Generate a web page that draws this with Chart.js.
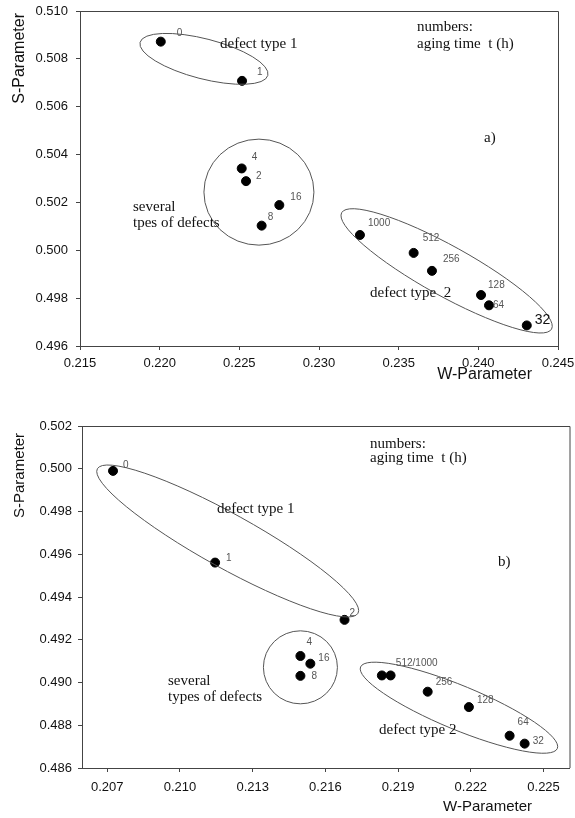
<!DOCTYPE html>
<html>
<head>
<meta charset="utf-8">
<script src="https://cdn.jsdelivr.net/npm/chart.js@4.4.1/dist/chart.umd.min.js"></script>
<style>
  html, body { margin: 0; padding: 0; background: #fff; }
  .panel { position: absolute; left: 0; width: 575px; }
  #panelA { top: 0; height: 400px; }
  #panelB { top: 400px; height: 418px; }
</style>
</head>
<body>
<div class="panel" id="panelA"><canvas id="chartA" width="575" height="400"></canvas></div>
<div class="panel" id="panelB"><canvas id="chartB" width="575" height="418"></canvas></div>
<script>
// aging time (h) for each measured point
const hours = ['0', '1', '2', '4', '8', '16', '32', '64', '128', '256', '512', '1000'];

// panel a)
const wParamA = [0.22007, 0.22517, 0.22542, 0.22515, 0.22640, 0.22751, 0.24304, 0.24067, 0.24017, 0.23709, 0.23594, 0.23257];
const sParamA = [0.50872, 0.50708, 0.50289, 0.50342, 0.50103, 0.50189, 0.49686, 0.49770, 0.49813, 0.49914, 0.49989, 0.50064];
const xTicksA = [0.215, 0.220, 0.225, 0.230, 0.235, 0.240, 0.245];
const yTicksA = [0.496, 0.498, 0.500, 0.502, 0.504, 0.506, 0.508, 0.510];

// panel b)
const wParamB = [0.20724, 0.21145, 0.21679, 0.21497, 0.21497, 0.21538, 0.22422, 0.22360, 0.22192, 0.22022, 0.21833, 0.21869];
const sParamB = [0.49990, 0.49561, 0.49293, 0.49124, 0.49031, 0.49088, 0.48714, 0.48751, 0.48885, 0.48957, 0.49033, 0.49033];
const xTicksB = [0.207, 0.210, 0.213, 0.216, 0.219, 0.222, 0.225];
const yTicksB = [0.486, 0.488, 0.490, 0.492, 0.494, 0.496, 0.498, 0.500, 0.502];
const labelsB = ['0', '1', '2', '4', '8', '16', '32', '64', '128', '256', '512/1000', ''];

// label offsets (px) next to each point
const offsetsA = [[16, -8], [15, -9], [10, -5], [10, -11], [6, -8], [11, -8], [8, -5], [4, 0], [7, -10], [11, -12], [9, -15], [8, -12]];
const offsetsB = [[10, -6], [11, -4], [5, -7], [6, -14], [11, 0], [8, -5], [8, -2], [8, -13], [8, -7], [8, -9], [14, -12], [0, 0]];

const serif = '"Liberation Serif", "Times New Roman", serif';
const sans = '"Liberation Sans", Arial, sans-serif';

// ellipses around groups: centre in data units, semi axes in px, tilt in degrees
const ellipsesA = [
  { x: 0.22278, y: 0.50800, a: 66, b: 20, angle: 14.5 },
  { x: 0.22623, y: 0.50243, a: 55, b: 53, angle: 0 },
  { x: 0.23801, y: 0.49914, a: 120, b: 25, angle: 29 }
];
const ellipsesB = [
  { x: 0.21197, y: 0.49662, a: 149, b: 27, angle: 29 },
  { x: 0.21497, y: 0.49071, a: 37, b: 36.5, angle: 0 },
  { x: 0.22151, y: 0.48882, a: 106.5, b: 22, angle: 22.5 }
];

const notesA = [
  { text: 'defect type 1', x: 220, y: 48 },
  { text: 'numbers:', x: 417, y: 31 },
  { text: 'aging time  t (h)', x: 417, y: 48 },
  { text: 'a)', x: 484, y: 142 },
  { text: 'several', x: 133, y: 211 },
  { text: 'tpes of defects', x: 133, y: 227 },
  { text: 'defect type  2', x: 370, y: 297 }
];
const notesB = [
  { text: 'numbers:', x: 370, y: 48 },
  { text: 'aging time  t (h)', x: 370, y: 62 },
  { text: 'defect type 1', x: 217, y: 113 },
  { text: 'b)', x: 498, y: 166 },
  { text: 'several', x: 168, y: 285 },
  { text: 'types of defects', x: 168, y: 301 },
  { text: 'defect type 2', x: 379, y: 334 }
];

const decorPlugin = {
  id: 'decor',
  afterDatasetsDraw(chart, args, opts) {
    const ctx = chart.ctx;
    const area = chart.chartArea;
    const xs = chart.scales.x;
    const ys = chart.scales.y;
    ctx.save();

    // top and right frame lines
    ctx.strokeStyle = '#444';
    ctx.lineWidth = 1;
    ctx.beginPath();
    ctx.moveTo(area.left, area.top + 0.5);
    ctx.lineTo(area.right + 0.5, area.top + 0.5);
    ctx.lineTo(area.right + 0.5, area.bottom);
    ctx.stroke();

    // group ellipses
    ctx.strokeStyle = '#555';
    opts.ellipses.forEach(e => {
      ctx.beginPath();
      ctx.ellipse(xs.getPixelForValue(e.x), ys.getPixelForValue(e.y), e.a, e.b, e.angle * Math.PI / 180, 0, Math.PI * 2);
      ctx.stroke();
    });

    // point labels
    const meta = chart.getDatasetMeta(0);
    ctx.textBaseline = 'middle';
    ctx.textAlign = 'left';
    meta.data.forEach((pt, i) => {
      const txt = opts.labels[i];
      if (!txt) return;
      const big = opts.bigLabel === i;
      ctx.font = big ? '14px ' + sans : '10px ' + sans;
      ctx.fillStyle = big ? '#111' : '#555';
      ctx.fillText(txt, pt.x + opts.offsets[i][0], pt.y + opts.offsets[i][1]);
    });

    // notes
    ctx.textBaseline = 'alphabetic';
    ctx.fillStyle = '#111';
    ctx.font = '15px ' + serif;
    opts.notes.forEach(n => ctx.fillText(n.text, n.x, n.y));

    // axis titles
    ctx.font = opts.titleSize + 'px ' + sans;
    ctx.textAlign = 'right';
    ctx.textBaseline = 'middle';
    ctx.fillText('W-Parameter', 532, opts.xTitleY);
    ctx.translate(20, opts.yTitleTop);
    ctx.rotate(-Math.PI / 2);
    ctx.fillText('S-Parameter', 0, 0);
    ctx.restore();
  }
};

function makeChart(id, w, s, cfg) {
  const points = w.map((v, i) => ({ x: v, y: s[i] }));
  return new Chart(document.getElementById(id), {
    type: 'scatter',
    data: {
      datasets: [{
        data: points,
        backgroundColor: '#000',
        borderColor: '#000',
        pointRadius: 4.5,
        pointHoverRadius: 4.5
      }]
    },
    options: {
      responsive: false,
      animation: false,
      layout: { padding: cfg.padding },
      plugins: {
        legend: { display: false },
        tooltip: { enabled: false },
        decor: cfg.decor
      },
      scales: {
        x: {
          type: 'linear',
          min: cfg.xMin,
          max: cfg.xMax,
          afterBuildTicks: sc => { sc.ticks = cfg.xTicks.map(v => ({ value: v })); },
          afterFit: sc => {
            sc.height = cfg.xHeight;
            sc.paddingLeft = 0;
            sc.paddingRight = 0;
          },
          grid: { drawOnChartArea: false, drawTicks: true, tickLength: 4, color: '#444' },
          border: { display: true, color: '#444' },
          ticks: {
            color: '#111',
            font: { family: sans, size: 13 },
            padding: cfg.xPad,
            maxRotation: 0,
            autoSkip: false,
            callback: v => v.toFixed(3)
          }
        },
        y: {
          type: 'linear',
          min: cfg.yMin,
          max: cfg.yMax,
          afterBuildTicks: sc => { sc.ticks = cfg.yTicks.map(v => ({ value: v })); },
          afterFit: sc => {
            sc.width = cfg.yWidth;
            sc.paddingTop = 0;
            sc.paddingBottom = 0;
          },
          grid: { drawOnChartArea: false, drawTicks: true, tickLength: 4, color: '#444' },
          border: { display: true, color: '#444' },
          ticks: {
            color: '#111',
            font: { family: sans, size: 13 },
            padding: cfg.yPad,
            autoSkip: false,
            callback: v => v.toFixed(3)
          }
        }
      }
    },
    plugins: [decorPlugin]
  });
}

makeChart('chartA', wParamA, sParamA, {
  padding: { left: 0, top: 11, right: 17, bottom: 0 },
  xMin: 0.215, xMax: 0.245, yMin: 0.496, yMax: 0.510,
  xTicks: xTicksA, yTicks: yTicksA,
  xHeight: 54, yWidth: 80, xPad: 6, yPad: 8,
  decor: {
    ellipses: ellipsesA, notes: notesA, labels: hours, offsets: offsetsA,
    bigLabel: 6, titleSize: 16, xTitleY: 375, yTitleTop: 13
  }
});

makeChart('chartB', wParamB, sParamB, {
  padding: { left: 0, top: 26, right: 2, bottom: 0 },
  xMin: 0.20596, xMax: 0.22607, yMin: 0.486, yMax: 0.502,
  xTicks: xTicksB, yTicks: yTicksB,
  xHeight: 50, yWidth: 82, xPad: 8, yPad: 6,
  decor: {
    ellipses: ellipsesB, notes: notesB, labels: labelsB, offsets: offsetsB,
    bigLabel: -1, titleSize: 15, xTitleY: 407, yTitleTop: 33
  }
});
</script>
</body>
</html>
